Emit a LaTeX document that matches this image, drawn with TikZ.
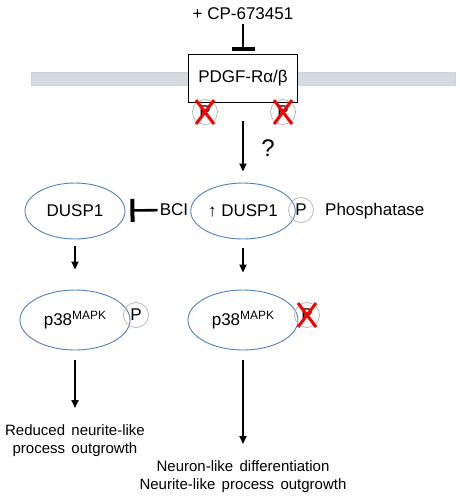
\documentclass[tikz,border=0pt]{standalone}
\usepackage{fontspec}
\setmainfont{Liberation Sans}
\usepackage{xcolor}
\usepackage{tikz}
\usetikzlibrary{shapes.geometric,arrows.meta}

\definecolor{blueline}{RGB}{79,129,189}
\definecolor{membranegray}{RGB}{212,219,224}
\newcommand{\pmapk}{p38\raisebox{6pt}{\fontsize{12}{12}\selectfont MAPK}}
\newcommand{\widewords}{\spaceskip=0.42em\relax}

\begin{document}
\begin{tikzpicture}[x=1pt, y=-1pt,
                    every node/.style={inner sep=2pt, font=\fontsize{17}{20}\selectfont},
                    protein/.style={ellipse, draw=blueline, line width=0.9pt, minimum width=100pt, minimum height=56pt},
                    phos/.style={circle, draw=gray!55, line width=0.8pt, minimum size=25pt, inner sep=0pt},
                    knockout/.style={draw=red, line width=3pt},
                    act/.style={draw, line width=1.8pt, -{Triangle[length=8pt,width=7pt]}},
                    block/.style={draw, line width=2.6pt, -{Bar[width=23pt,line width=4pt]}},
                    outcome/.style={align=center, inner sep=0pt, anchor=north,
                                    font={\fontsize{15}{18}\selectfont\widewords}}]
  \useasboundingbox (0,0) rectangle (460,499);
  \filldraw[fill=membranegray, draw=gray!35] (31,72) rectangle (455,85);

  \node (cp) at (243,14) {+ CP-673451};
  \node[draw, fill=white, line width=1pt, minimum width=109pt, minimum height=48pt] (pdgfr) at (243,78) {PDGF-Rα/β};
  \draw[block, shorten <=2pt, shorten >=3pt] (cp) -- (pdgfr);

  \node[phos] (py1) at (205,112) {P};
  \node[phos] (py2) at (283,112) {P};
  \draw[knockout] (py1) ++(-9,-12) -- ++(18,24) (py1) ++(9,-12) -- ++(-18,24);
  \draw[knockout] (py2) ++(-9,-12) -- ++(18,24) (py2) ++(9,-12) -- ++(-18,24);

  \node[protein] (duspi) at (75,211) {DUSP1};
  \node[protein] (dusp) at (243,211) {↑ DUSP1};
  \node[phos] (pdusp) at (301,210) {P};
  \node[anchor=west] (phtase) at (323,211) {Phosphatase};
  \node (bci) at (174,210) {BCI};
  \node (q) at (268,148) {\fontsize{24}{24}\selectfont ?};

  \draw[act, shorten <=18pt, shorten >=11pt] (pdgfr) -- (dusp);
  \draw[block, shorten >=5pt] (bci) -- (duspi);

  \node[protein, minimum width=110pt, minimum height=60pt] (p38i) at (75,320) {\pmapk};
  \node[protein, minimum width=110pt, minimum height=60pt] (p38) at (243,320) {\pmapk};
  \node[phos] (pp38i) at (136,315) {P};
  \node[phos] (pp38) at (307,315) {P};
  \draw[knockout] (pp38) ++(-9,-12) -- ++(18,24) (pp38) ++(9,-12) -- ++(-18,24);

  \draw[act, shorten <=7pt, shorten >=20pt] (duspi) -- (p38i);
  \draw[act, shorten <=9pt, shorten >=17pt] (dusp) -- (p38);

  \node[outcome] (reduced) at (75,424) {Reduced neurite-like\\process outgrowth};
  \node[outcome] (neuron) at (243,460) {Neuron-like differentiation\\Neurite-like process outgrowth};

  \draw[act, shorten <=10pt, shorten >=16pt] (p38i) -- (reduced);
  \draw[act, shorten <=10pt, shorten >=16pt] (p38) -- (neuron);
\end{tikzpicture}
\end{document}
